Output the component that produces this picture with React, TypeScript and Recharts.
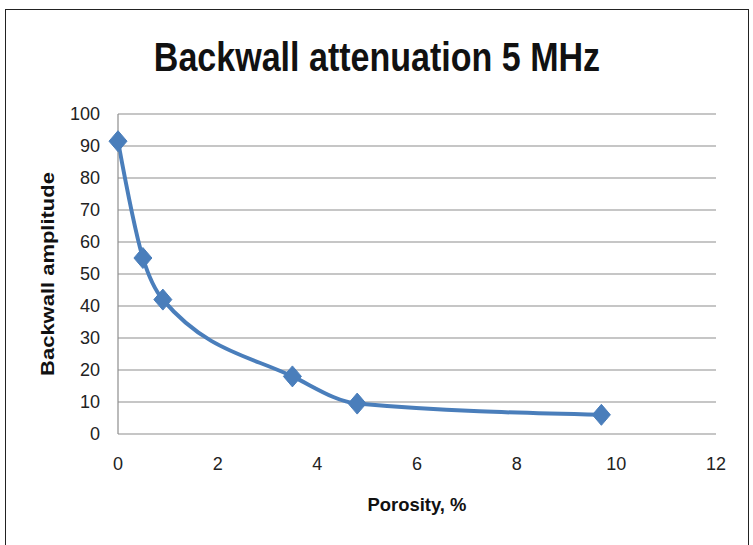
import { LineChart, Line, XAxis, YAxis, CartesianGrid } from 'recharts';

const porosity = [0, 0.5, 0.9, 3.5, 4.8, 9.7];
const amplitude = [91.5, 55, 42, 18, 9.5, 6];
const xTicks = [0, 2, 4, 6, 8, 10, 12];
const yTicks = [0, 10, 20, 30, 40, 50, 60, 70, 80, 90, 100];

const data = porosity.map((p, i) => ({ porosity: p, amplitude: amplitude[i] }));

const FONT = '"Liberation Sans", Arial, sans-serif';
const BLUE = '#4a7ebb';

// Excel-style diamond marker, a bit taller than wide like the source image
const Diamond = (props: any) => {
    const { cx, cy } = props;
    if (cx == null || cy == null) return null;
    const rx = 9;
    const ry = 10.5;
    return (
        <polygon
            points={`${cx},${cy - ry} ${cx + rx},${cy} ${cx},${cy + ry} ${cx - rx},${cy}`}
            fill={BLUE}
            stroke={BLUE}
        />
    );
};

export default function App() {
    return (
        <div style={{ position: 'absolute', left: 0, top: 0, width: 753, height: 545, background: '#fff', fontFamily: FONT }}>
            <div style={{ position: 'absolute', left: 5, top: 9, width: 742, height: 545, borderTop: '1.5px solid #222', borderLeft: '1.5px solid #222', borderRight: '1.5px solid #222' }} />
            <div style={{ position: 'absolute', left: 377, top: 57, transform: 'translate(-50%, -50%) scaleX(0.83)', whiteSpace: 'nowrap', fontSize: 41, fontWeight: 'bold', color: '#111' }}>
                Backwall attenuation 5 MHz
            </div>
            <div style={{ position: 'absolute', left: 48, top: 274, transform: 'translate(-50%, -50%) rotate(-90deg) scaleX(1.22)', whiteSpace: 'nowrap', fontSize: 18, fontWeight: 'bold', color: '#111' }}>
                Backwall amplitude
            </div>
            <div style={{ position: 'absolute', left: 417, top: 505, transform: 'translate(-50%, -50%) scaleX(0.97)', whiteSpace: 'nowrap', fontSize: 19, fontWeight: 'bold', color: '#111' }}>
                Porosity, %
            </div>
            <div style={{ position: 'absolute', left: 0, top: 0 }}>
                <LineChart width={753} height={545} data={data} margin={{ top: 114, right: 37, bottom: 81, left: 58 }}>
                    <CartesianGrid vertical={false} stroke="#8e8e8e" strokeWidth={1.2} />
                    <XAxis
                        dataKey="porosity"
                        type="number"
                        domain={[0, 12]}
                        ticks={xTicks}
                        axisLine={false}
                        tickLine={false}
                        tickSize={0}
                        tickMargin={23}
                        tick={{ fill: '#222', fontSize: 18, fontFamily: FONT }}
                        height={30}
                    />
                    <YAxis
                        type="number"
                        domain={[0, 100]}
                        ticks={yTicks}
                        axisLine={{ stroke: '#8e8e8e', strokeWidth: 1.2 }}
                        tickLine={false}
                        tickSize={0}
                        tickMargin={18}
                        tick={{ fill: '#222', fontSize: 18, fontFamily: FONT }}
                        width={60}
                        interval={0}
                    />
                    <Line
                        dataKey="amplitude"
                        type="monotone"
                        stroke={BLUE}
                        strokeWidth={4}
                        dot={<Diamond />}
                        isAnimationActive={false}
                    />
                </LineChart>
            </div>
        </div>
    );
}
